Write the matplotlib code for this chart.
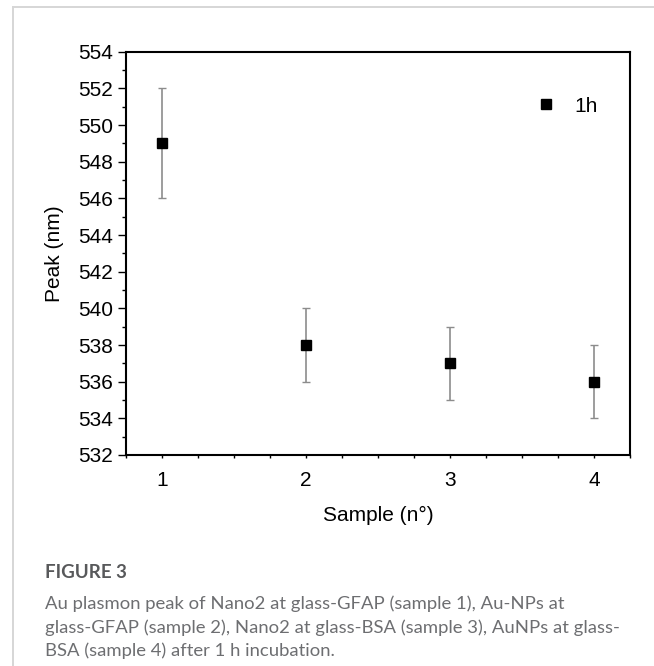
import matplotlib
matplotlib.use("Agg")
import matplotlib.pyplot as plt
from matplotlib.ticker import MultipleLocator, FixedLocator
from matplotlib.lines import Line2D

# данные
samples = [1, 2, 3, 4]
peaks = [549, 538, 537, 536]
errors = [3, 2, 2, 2]
series_label = "1h"

caption_title = "FIGURE 3"
caption_lines = [
    "Au plasmon peak of Nano2 at glass-GFAP (sample 1), Au-NPs at",
    "glass-GFAP (sample 2), Nano2 at glass-BSA (sample 3), AuNPs at glass-",
    "BSA (sample 4) after 1 h incubation.",
]

W, H = 654, 666
fig = plt.figure(figsize=(W / 100, H / 100), dpi=100)
plt.rcParams['font.family'] = ['Liberation Sans', 'DejaVu Sans']

# рамка страницы
fig.add_artist(Line2D([12.7 / W, 1.0], [1 - 6.7 / H, 1 - 6.7 / H],
                      transform=fig.transFigure, color="#d6d6d6", lw=1.4))
fig.add_artist(Line2D([12.7 / W, 12.7 / W], [1 - 6.7 / H, 0.0],
                      transform=fig.transFigure, color="#d6d6d6", lw=1.4))

ax = fig.add_axes([126 / W, 1 - 455 / H, (630 - 126) / W, (455 - 51.7) / H])

ax.errorbar(samples, peaks, yerr=errors, fmt="none", ecolor="#8c8c8c",
            elinewidth=1.2, capsize=3.2, capthick=1.0, zorder=2)
ax.plot(samples, peaks, linestyle="none", marker="s", markersize=6.5,
        color="black", label=series_label, zorder=3)

ax.set_xlim(0.75, 4.25)
ax.set_ylim(532, 554)
ax.xaxis.set_major_locator(FixedLocator(samples))
ax.xaxis.set_minor_locator(MultipleLocator(0.25))
ax.yaxis.set_major_locator(MultipleLocator(2))
ax.yaxis.set_minor_locator(MultipleLocator(1))

ax.tick_params(axis="x", which="both", direction="out", length=2.2, width=1.0,
               labelsize=15, pad=9.5)
ax.tick_params(axis="y", which="major", direction="out", length=5.8, width=1.0,
               labelsize=15, pad=3.5)
ax.tick_params(axis="y", which="minor", direction="out", length=2.9, width=1.0)
for s in ax.spines.values():
    s.set_linewidth(1.5)

ax.set_xlabel("Sample (n°)", fontsize=15, labelpad=11)
ax.set_ylabel("Peak (nm)", fontsize=15, labelpad=10)

ax.legend(loc="center", bbox_to_anchor=(0.875, 0.865), frameon=False,
          fontsize=15, handlelength=1.0, handletextpad=0.85, markerscale=1.0)

# подпись
fig.text(45 / W, 1 - 573 / H, caption_title, fontsize=13.5, family=["Lato", "DejaVu Sans"],
         fontweight="bold", color="#58595b", va="center", ha="left")
for i, line in enumerate(caption_lines):
    fig.text(45 / W, 1 - (604 + 23.5 * i) / H, line, fontsize=13.3,
             family=["Lato", "DejaVu Sans"], color="#6d6e71", va="center", ha="left")

fig.savefig("out.png", dpi=100)
